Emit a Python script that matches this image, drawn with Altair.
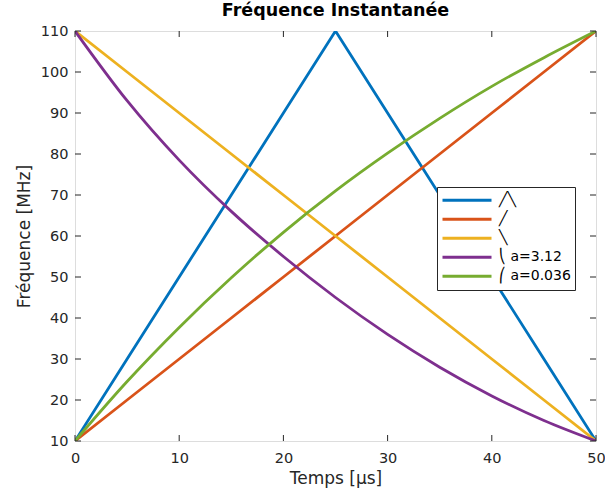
import altair as alt
import pandas as pd

# Time axis (µs) and frequency series (MHz)
t = [0, 5, 10, 15, 20, 25, 30, 35, 40, 45, 50]
tri = [10, 30, 50, 70, 90, 110, 90, 70, 50, 30, 10]
up = [10, 20, 30, 40, 50, 60, 70, 80, 90, 100, 110]
down = [110, 100, 90, 80, 70, 60, 50, 40, 30, 20, 10]
convex_down = [110, 93, 78.5, 66, 55, 45, 36, 28, 21, 15, 10]
concave_up = [10, 24.5, 37.7, 49.8, 60.9, 71, 80.2, 88.7, 96.5, 103.5, 110]

labels = ["╱╲", "╱", "╲", "⎝ a=3.12", "⎛ a=0.036"]
colors = ["#0072BD", "#D95319", "#EDB120", "#7E2F8E", "#77AC30"]
interps = ["linear", "linear", "linear", "monotone", "monotone"]
series = [tri, up, down, convex_down, concave_up]

x_ticks = [0, 10, 20, 30, 40, 50]
y_ticks = [10, 20, 30, 40, 50, 60, 70, 80, 90, 100, 110]

rows = []
for lab, ys in zip(labels, series):
    for ti, yi in zip(t, ys):
        rows.append({"t": ti, "f": yi, "s": lab})
df = pd.DataFrame(rows)
dx = pd.DataFrame({"xt": x_ticks})
dy = pd.DataFrame({"yt": y_ticks})

W, H = 521, 410
FONT = "DejaVu Sans"
TXT = "#262626"

xs = alt.Scale(domain=[0, 50], nice=False, zero=False)
ysc = alt.Scale(domain=[10, 110], nice=False, zero=False)

color = alt.Color(
    "s:N",
    scale=alt.Scale(domain=labels, range=colors),
    legend=alt.Legend(
        title=None, orient="none", legendX=362, legendY=156,
        symbolType="stroke", symbolSize=49 * 49, symbolStrokeWidth=3,
        labelFontSize=14, labelFont=FONT, labelColor="#000",
        fillColor="white", strokeColor="#262626", padding=4,
        rowPadding=0, clipHeight=18.7, labelOffset=6,
    ),
)

xaxis = alt.Axis(values=x_ticks, title="Temps [µs]", tickSize=0, domain=False, grid=False,
                 labelFontSize=14.5, titleFontSize=17, labelPadding=10, titlePadding=6,
                 labelFlush=False, labelOverlap=False, labelColor=TXT, titleColor=TXT,
                 labelFont=FONT, titleFont=FONT, titleFontWeight="normal")
yaxis = alt.Axis(values=y_ticks, title="Fréquence [MHz]", tickSize=0, domain=False, grid=False,
                 labelFontSize=14.5, titleFontSize=17, labelPadding=7, titlePadding=7,
                 labelFlush=False, labelOverlap=False, labelColor=TXT, titleColor=TXT,
                 labelFont=FONT, titleFont=FONT, titleFontWeight="normal")

layers = []
for i, (lab, itp) in enumerate(zip(labels, interps)):
    enc = dict(
        x=alt.X("t:Q", scale=xs, axis=xaxis),
        y=alt.Y("f:Q", scale=ysc, axis=yaxis),
        color=color,
    )
    layers.append(
        alt.Chart(df).transform_filter(alt.datum.s == lab)
        .mark_line(strokeWidth=2.8, interpolate=itp, clip=True)
        .encode(**enc)
    )

TL = 6
tick_style = dict(color=TXT, strokeWidth=1)
top_t = alt.Chart(dx).mark_rule(**tick_style).encode(
    x=alt.X("xt:Q", scale=xs, axis=xaxis), y=alt.value(0), y2=alt.value(TL))
bot_t = alt.Chart(dx).mark_rule(**tick_style).encode(
    x=alt.X("xt:Q", scale=xs, axis=xaxis), y=alt.value(H), y2=alt.value(H - TL))
left_t = alt.Chart(dy).mark_rule(**tick_style).encode(
    y=alt.Y("yt:Q", scale=ysc, axis=yaxis), x=alt.value(0), x2=alt.value(TL))
right_t = alt.Chart(dy).mark_rule(**tick_style).encode(
    y=alt.Y("yt:Q", scale=ysc, axis=yaxis), x=alt.value(W), x2=alt.value(W - TL))

chart = alt.layer(*layers, top_t, bot_t, left_t, right_t).properties(
    width=W, height=H,
    padding={"left": 75, "top": 31, "right": 9, "bottom": 52},
    autosize=alt.AutoSizeParams(type="none"),
    title=alt.Title("Fréquence Instantanée", fontSize=17.5, fontWeight="bold", font=FONT,
                    color="#000", offset=4, anchor="middle"),
).configure_view(stroke=TXT, strokeWidth=1).configure(background="white")

chart.save("out.html", embed_options={"renderer": "svg", "actions": False})
